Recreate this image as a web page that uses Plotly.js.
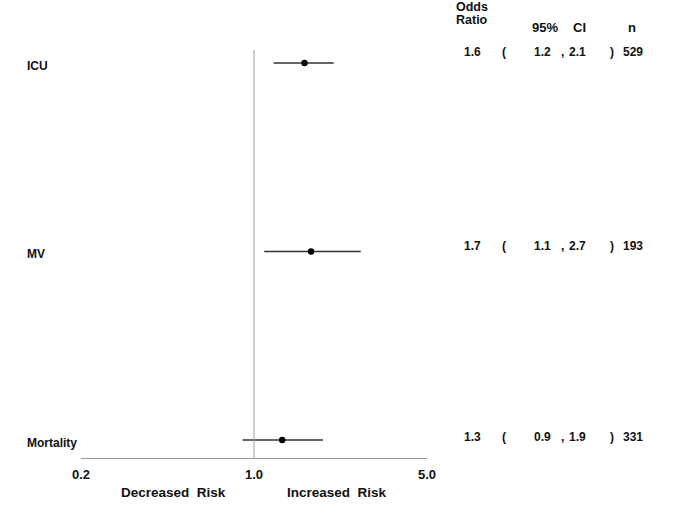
<!DOCTYPE html>
<html>
<head>
<meta charset="utf-8">
<script src="https://cdn.plot.ly/plotly-3.0.1.min.js"></script>
<style>html,body{margin:0;padding:0;background:#fff;}#chart{width:685px;height:516px;}</style>
</head>
<body>
<div id="chart"></div>
<script>
// Data
const outcomes = ["ICU", "MV", "Mortality"];
const rowPos = [3, 2, 1];
const oddsRatio = [1.6, 1.7, 1.3];
const ciLow = [1.2, 1.1, 0.9];
const ciHigh = [2.1, 2.7, 1.9];
const nVals = [529, 193, 331];
const tickVals = [0.2, 1.0, 5.0];
const tickText = ["0.2", "1.0", "5.0"];

const font = "Liberation Sans, Arial, sans-serif";
const ink = "#111";

// plot geometry helpers (pixels -> paper)
const L = 81, R = 427, T = 30, B = 458;
const px = p => (p - L) / (R - L);
const py = p => 1 - (p - T) / (B - T);

const traces = [];
// CI lines
outcomes.forEach((o, i) => {
  traces.push({
    type: "scatter", mode: "lines",
    x: [ciLow[i], ciHigh[i]], y: [rowPos[i], rowPos[i]],
    line: {color: "#333", width: 1.5},
    hoverinfo: "skip", showlegend: false
  });
});
// point estimates
traces.push({
  type: "scatter", mode: "markers",
  x: oddsRatio, y: rowPos, text: outcomes,
  marker: {color: "#000", size: 6.5},
  showlegend: false
});

const ann = [];
const rowShift = [11, 5, 3];
outcomes.forEach((o, i) => {
  ann.push({xref: "paper", yref: "y", x: px(25), y: rowPos[i], yshift: -3, xanchor: "left", yanchor: "middle",
    text: "<b>" + o + "</b>", showarrow: false, font: {family: font, size: 12, color: ink}});
  const cols = [
    [472, oddsRatio[i].toFixed(1)], [504, "("], [542, ciLow[i].toFixed(1)], [562, ","],
    [577, ciHigh[i].toFixed(1)], [612, ")"], [633, String(nVals[i])]
  ];
  cols.forEach(c => ann.push({xref: "paper", yref: "y", x: px(c[0]), y: rowPos[i], yshift: rowShift[i],
    xanchor: "center", yanchor: "middle", text: "<b>" + c[1] + "</b>", showarrow: false,
    font: {family: font, size: 12, color: ink}}));
});
// headers
const hdr = [[472, 7, "Odds", 12.5], [472, 20, "Ratio", 12.5], [545, 27, "95%", 13], [579, 27, "CI", 13], [632, 27, "n", 13]];
hdr.forEach(h => ann.push({xref: "paper", yref: "paper", x: px(h[0]), y: py(h[1]), xanchor: "center", yanchor: "middle",
  text: "<b>" + h[2] + "</b>", showarrow: false, font: {family: font, size: h[3], color: ink}}));
// axis side labels
ann.push({xref: "paper", yref: "paper", x: px(173), y: py(492), xanchor: "center", yanchor: "middle",
  text: "<b>Decreased  Risk</b>", showarrow: false, font: {family: font, size: 13.5, color: ink}});
ann.push({xref: "paper", yref: "paper", x: px(337), y: py(492), xanchor: "center", yanchor: "middle",
  text: "<b>Increased  Risk</b>", showarrow: false, font: {family: font, size: 13.5, color: ink}});

const layout = {
  width: 685, height: 516,
  margin: {l: L, r: 685 - R, t: T, b: 516 - B, pad: 0},
  paper_bgcolor: "#fff", plot_bgcolor: "#fff",
  xaxis: {
    type: "log", range: [Math.log10(0.2), Math.log10(5)],
    tickvals: tickVals, ticktext: tickText.map(t => "<b>" + t + "</b>"),
    ticks: "", ticklabelstandoff: 4, showgrid: false, zeroline: false,
    showline: true, linecolor: "#999", linewidth: 1,
    tickfont: {family: font, size: 13, color: ink}, fixedrange: true
  },
  yaxis: {
    range: [0.9045, 3.175], showticklabels: false, ticks: "",
    showgrid: false, zeroline: false, showline: false, fixedrange: true
  },
  shapes: [{type: "line", xref: "x", yref: "y", x0: 1, x1: 1, y0: 0.9045, y1: 3.069,
    line: {color: "#999", width: 1}}],
  annotations: ann,
  showlegend: false
};

Plotly.newPlot("chart", traces, layout, {displayModeBar: false, staticPlot: true});
</script>
</body>
</html>
